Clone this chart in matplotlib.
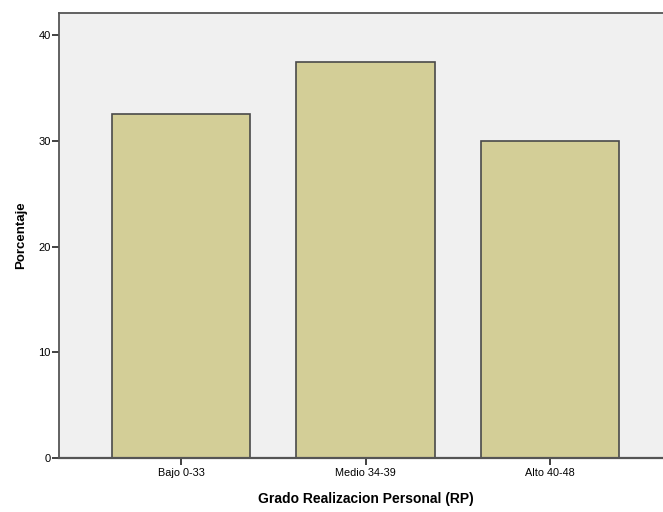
import matplotlib
matplotlib.use("Agg")
import matplotlib.pyplot as plt

categories = ["Bajo 0-33", "Medio 34-39", "Alto 40-48"]
percentages = [32.5, 37.5, 30.0]
y_ticks = [0, 10, 20, 30, 40]

plt.rcParams['font.family'] = ['Liberation Sans', 'DejaVu Sans']

fig = plt.figure(figsize=(6.63, 5.12), dpi=100)
W, H = 663, 512
left, right, top, bottom = 59, 672, 13, 458
ax = fig.add_axes([left / W, 1 - bottom / H, (right - left) / W, (bottom - top) / H])
ax.set_facecolor("#f0f0f0")

x = range(len(categories))
ax.bar(x, percentages, width=0.75, color="#d3ce97", edgecolor="#4a4a4a", linewidth=1.2)

ax.set_xlim(-0.661, 2.661)
ax.set_ylim(0, 42.1)
ax.set_yticks(y_ticks)
ax.set_xticks(list(x))
ax.set_xticklabels(categories, fontsize=7.8)
ax.tick_params(axis="y", labelsize=8, length=5, width=1.3, color="#333333", pad=1)
ax.tick_params(axis="x", length=5, width=1.3, color="#333333", pad=2.5)

for side in ["left", "bottom", "top", "right"]:
    ax.spines[side].set_color("#555555")
    ax.spines[side].set_linewidth(1.3)
ax.spines["bottom"].set_linewidth(1.6)

ax.set_xlabel("Grado Realizacion Personal (RP)", fontsize=10, fontweight="bold", labelpad=10)
ax.set_ylabel("Porcentaje", fontsize=9.5, fontweight="bold", labelpad=8)

fig.savefig("out.png", dpi=100)
